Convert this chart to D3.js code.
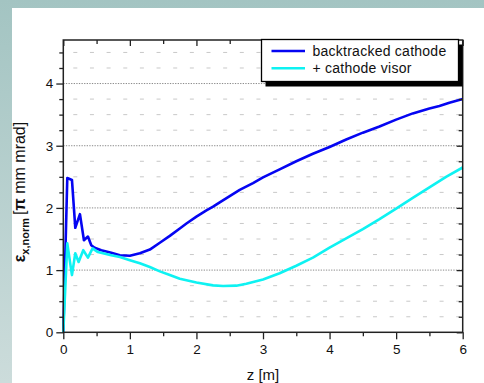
<!DOCTYPE html>
<html>
<head>
<meta charset="utf-8">
<script src="https://cdn.jsdelivr.net/npm/d3@7"></script>
<style>
  html, body { margin: 0; overflow: hidden; }
  svg { display: block; }
  text { font-family: Arial, 'Liberation Sans', sans-serif; fill: #111; }
</style>
</head>
<body>
<div id="chart"></div>
<script>
// backtracked cathode
const zBack = [0, 0.06, 0.13, 0.18, 0.25, 0.31, 0.37, 0.42, 0.47, 0.57, 0.72, 0.85, 1.0, 1.15, 1.3, 1.45, 1.6, 1.75, 1.85, 2.0, 2.15, 2.25, 2.35, 2.5, 2.65, 2.85, 3.0, 3.25, 3.5, 3.75, 4.0, 4.25, 4.5, 4.75, 5.0, 5.25, 5.5, 5.65, 5.8, 6.0]
const epsBack = [0, 2.48, 2.45, 1.68, 1.90, 1.48, 1.54, 1.40, 1.36, 1.32, 1.28, 1.24, 1.23, 1.27, 1.33, 1.44, 1.55, 1.67, 1.75, 1.86, 1.96, 2.02, 2.09, 2.19, 2.29, 2.40, 2.49, 2.62, 2.75, 2.87, 2.98, 3.10, 3.21, 3.31, 3.42, 3.52, 3.60, 3.64, 3.69, 3.75]

// + cathode visor
const zVisor = [0, 0.06, 0.13, 0.18, 0.23, 0.30, 0.37, 0.44, 0.52, 0.72, 0.85, 1.0, 1.15, 1.3, 1.45, 1.6, 1.75, 2.0, 2.25, 2.4, 2.6, 2.75, 3.0, 3.25, 3.5, 3.75, 4.0, 4.25, 4.5, 4.75, 5.0, 5.25, 5.5, 5.75, 6.0]
const epsVisor = [0, 1.43, 0.92, 1.27, 1.13, 1.32, 1.20, 1.35, 1.29, 1.24, 1.21, 1.16, 1.11, 1.05, 0.98, 0.92, 0.86, 0.80, 0.755, 0.745, 0.75, 0.78, 0.85, 0.95, 1.07, 1.20, 1.36, 1.51, 1.66, 1.82, 1.99, 2.16, 2.33, 2.50, 2.65]

const seriesNames = ['backtracked cathode', '+ cathode visor']
const seriesColors = ['#0505f2', '#0ef2f2']
const xTicks = [0, 1, 2, 3, 4, 5, 6]
const yTicks = [0, 1, 2, 3, 4]

const W = 484
const H = 383
const margin = { top: 40, right: 21.3, bottom: 50.7, left: 63.3 }
const width = W - margin.left - margin.right
const height = H - margin.top - margin.bottom

const series = [
  { name: seriesNames[0], color: seriesColors[0], values: zBack.map((z, i) => ({ z, v: epsBack[i] })) },
  { name: seriesNames[1], color: seriesColors[1], values: zVisor.map((z, i) => ({ z, v: epsVisor[i] })) }
]

const xScale = d3.scaleLinear().domain([0, 6]).range([0, width])
const yScale = d3.scaleLinear().domain([0, 4.7]).range([height, 0])

const svg = d3.select('#chart')
  .append('svg')
  .attr('width', W)
  .attr('height', H)

// slide background
const grad = svg.append('defs').append('linearGradient')
  .attr('id', 'bg')
  .attr('x1', 0).attr('y1', 0).attr('x2', 0).attr('y2', 1)
grad.append('stop').attr('offset', '0%').attr('stop-color', '#a3c4c2')
grad.append('stop').attr('offset', '100%').attr('stop-color', '#ccdcdb')

svg.append('rect').attr('width', W).attr('height', H).attr('fill', 'url(#bg)')
svg.append('rect').attr('x', 12).attr('y', 8).attr('width', W - 12).attr('height', H - 8).attr('fill', '#fff')

const g = svg.append('g')
  .attr('transform', `translate(${margin.left}, ${margin.top})`)

// minor grid (every 0.25), dashed light grey
const minorY = d3.range(0.25, 4.7, 0.25).filter((v) => Math.abs(v - Math.round(v)) > 0.01)
g.selectAll('.minor-grid')
  .data(minorY)
  .enter()
  .append('line')
  .attr('class', 'minor-grid')
  .attr('x1', 0).attr('x2', width)
  .attr('y1', (d) => yScale(d)).attr('y2', (d) => yScale(d))
  .attr('stroke', '#c8c8c8')
  .attr('stroke-width', 1)
  .attr('stroke-dasharray', '4,12.65')
  .attr('stroke-dashoffset', -10)

// major grid, dotted
g.selectAll('.major-grid')
  .data(yTicks.slice(1))
  .enter()
  .append('line')
  .attr('class', 'major-grid')
  .attr('x1', 0).attr('x2', width)
  .attr('y1', (d) => yScale(d)).attr('y2', (d) => yScale(d))
  .attr('stroke', '#8a8a8a')
  .attr('stroke-width', 1)
  .attr('stroke-dasharray', '1.3,1.3')

// lines
const line = d3.line()
  .x((d) => xScale(d.z))
  .y((d) => yScale(d.v))

g.selectAll('.series')
  .data(series)
  .enter()
  .append('path')
  .attr('class', 'series')
  .attr('d', (d) => line(d.values))
  .attr('fill', 'none')
  .attr('stroke', (d) => d.color)
  .attr('stroke-width', 2.6)
  .attr('stroke-linejoin', 'round')

// axes
const minorX = d3.range(0.5, 6, 1)
const styleAxis = (sel) => {
  sel.select('.domain').remove()
  sel.selectAll('line').attr('stroke', '#222').attr('stroke-width', 1.3)
  sel.selectAll('text').attr('font-size', 13.5).attr('fill', '#111')
}

g.append('g')
  .attr('transform', `translate(0, ${height})`)
  .call(d3.axisBottom(xScale).tickValues(xTicks).tickSize(7).tickPadding(5).tickFormat(d3.format('d')))
  .call(styleAxis)
g.append('g')
  .attr('transform', `translate(0, ${height})`)
  .call(d3.axisBottom(xScale).tickValues(minorX).tickSize(4).tickFormat(''))
  .call(styleAxis)

g.append('g')
  .call(d3.axisLeft(yScale).tickValues(yTicks).tickSize(7).tickPadding(3).tickFormat(d3.format('d')))
  .call(styleAxis)
g.append('g')
  .call(d3.axisLeft(yScale).tickValues(minorY).tickSize(4).tickFormat(''))
  .call(styleAxis)

// mirrored ticks on top and right, pointing inward
g.append('g')
  .call(d3.axisBottom(xScale).tickValues(xTicks).tickSize(6).tickFormat(''))
  .call(styleAxis)
g.append('g')
  .call(d3.axisBottom(xScale).tickValues(minorX).tickSize(4).tickFormat(''))
  .call(styleAxis)
g.append('g')
  .attr('transform', `translate(${width}, 0)`)
  .call(d3.axisLeft(yScale).tickValues(yTicks).tickSize(6).tickFormat(''))
  .call(styleAxis)
g.append('g')
  .attr('transform', `translate(${width}, 0)`)
  .call(d3.axisLeft(yScale).tickValues(minorY).tickSize(4).tickFormat(''))
  .call(styleAxis)

// frame
g.append('rect')
  .attr('width', width)
  .attr('height', height)
  .attr('fill', 'none')
  .attr('stroke', '#222')
  .attr('stroke-width', 1.5)

// legend
const legend = svg.append('g').attr('transform', 'translate(261.5, 39.5)')
legend.append('rect')
  .attr('x', 4).attr('y', 5)
  .attr('width', 197).attr('height', 42)
  .attr('fill', '#000')
legend.append('rect')
  .attr('width', 197).attr('height', 42)
  .attr('fill', '#fff')
  .attr('stroke', '#000')
  .attr('stroke-width', 1.3)

const items = legend.selectAll('.item')
  .data(series)
  .enter()
  .append('g')
  .attr('class', 'item')
  .attr('transform', (d, i) => `translate(0, ${11.5 + i * 17.3})`)
items.append('line')
  .attr('x1', 10).attr('x2', 43.5)
  .attr('stroke', (d) => d.color)
  .attr('stroke-width', 2.6)
items.append('text')
  .attr('x', 51)
  .attr('y', 5)
  .attr('font-size', 14)
  .attr('letter-spacing', 0.25)
  .text((d) => d.name)

// axis titles
svg.append('text')
  .attr('x', margin.left + width / 2)
  .attr('y', 380)
  .attr('text-anchor', 'middle')
  .attr('font-size', 15)
  .text('z [m]')

const yTitle = svg.append('text')
  .attr('transform', 'translate(25, 192) rotate(-90)')
  .attr('text-anchor', 'middle')
  .attr('font-size', 16)
yTitle.append('tspan').attr('font-weight', 'bold').text('ε')
yTitle.append('tspan').attr('font-size', 11).attr('font-weight', 'bold').attr('dy', 4).text('x,norm')
yTitle.append('tspan').attr('dy', -4).attr('dx', 3).text('[')
yTitle.append('tspan').attr('font-weight', 'bold').text('π')
yTitle.append('tspan').text(' mm mrad]')
</script>
</body>
</html>
